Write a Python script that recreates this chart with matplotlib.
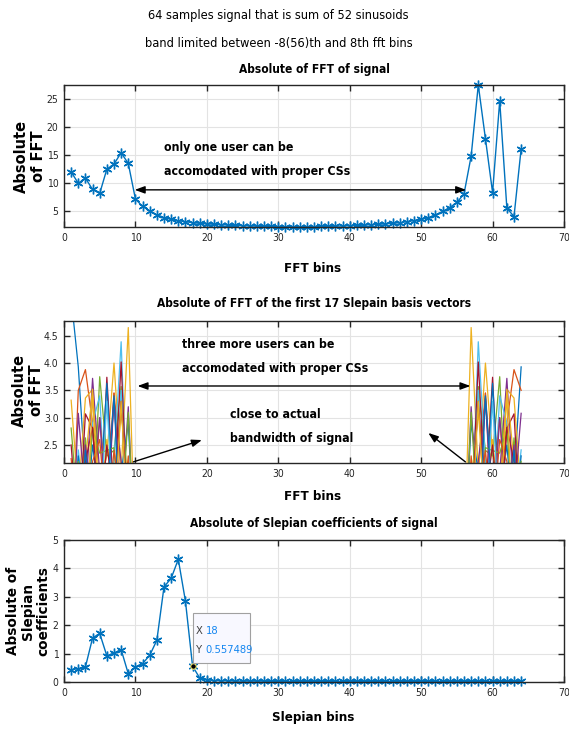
import numpy as np
import matplotlib
matplotlib.use('Agg')
import matplotlib.pyplot as plt
from matplotlib.patches import Rectangle

plt.rcParams['font.family'] = ['DejaVu Sans']
plt.rcParams['font.stretch'] = 'condensed'

W, H = 569, 731
COLORS = ['#0072BD', '#D95319', '#EDB120', '#7E2F8E', '#77AC30', '#4DBEEE', '#A2142F']
ASTER = (6, 2, 0)

# ── data ──────────────────────────────────────────────────────────────────────
bins = np.arange(1, 65)

fft_signal = [12.0, 10.0, 10.9, 8.9, 8.2, 12.5, 13.4, 15.4, 13.5, 7.2,
              5.9, 5.1, 4.4, 3.9, 3.6, 3.35, 3.2, 3.0, 2.9, 2.8,
              2.72, 2.65, 2.58, 2.52, 2.47, 2.43, 2.39, 2.36, 2.34, 2.32,
              2.31, 2.30, 2.30, 2.31, 2.32, 2.34, 2.36, 2.39, 2.43, 2.47,
              2.52, 2.58, 2.65, 2.72, 2.80, 2.90, 3.0, 3.2, 3.4, 3.6,
              3.9, 4.4, 5.0, 5.7, 6.6, 8.1, 14.8, 27.4, 17.9, 8.35,
              24.6, 5.6, 4.1, 16.1]

# |FFT| of the first 17 Slepian vectors, bins 1..10 and 56..64 (rest is below the view)
left_bins = np.arange(1, 11)
right_bins = np.arange(56, 65)
slep_left = [
    [5.2, 3.93, 1.9, 0.8, 0.4, 0.3, 0.2, 0.2, 0.1, 0.1],
    [0.3, 3.5, 3.88, 2.9, 1.5, 1.0, 3.45, 2.0, 1.2, 0.3],
    [3.32, 1.6, 3.36, 3.52, 1.8, 2.3, 4.0, 2.0, 4.65, 0.3],
    [0.2, 3.08, 1.5, 3.72, 2.0, 1.6, 3.3, 2.2, 1.5, 0.2],
    [2.81, 1.2, 2.63, 1.0, 3.75, 2.3, 2.4, 3.57, 1.5, 0.2],
    [0.2, 2.41, 1.2, 2.9, 3.4, 1.0, 2.2, 4.39, 0.8, 0.3],
    [2.5, 0.8, 3.07, 2.8, 1.0, 3.74, 1.5, 4.02, 1.0, 0.3],
    [0.1, 2.3, 1.0, 2.5, 1.5, 3.63, 1.0, 2.0, 2.9, 0.3],
    [2.25, 1.0, 2.4, 1.2, 3.0, 1.5, 3.45, 1.0, 2.3, 0.2],
    [0.2, 1.8, 2.2, 3.52, 1.2, 2.6, 1.5, 3.1, 1.8, 0.2],
    [2.0, 0.6, 2.5, 1.5, 3.0, 1.0, 3.35, 1.2, 3.2, 0.2],
    [0.1, 2.2, 1.0, 2.8, 2.35, 2.4, 2.45, 1.0, 3.1, 0.2],
    [1.5, 2.0, 0.8, 2.0, 1.0, 3.3, 1.0, 3.5, 0.5, 0.1],
    [0.3, 1.5, 2.2, 2.82, 1.0, 2.5, 1.5, 3.3, 1.2, 0.1],
    [1.2, 0.5, 2.4, 1.0, 2.0, 1.5, 3.4, 0.5, 1.8, 0.1],
    [0.2, 1.3, 1.0, 2.2, 2.6, 1.0, 2.4, 1.4, 2.0, 0.1],
    [1.0, 2.1, 0.5, 3.4, 1.2, 2.0, 1.0, 3.3, 0.8, 0.1],
]
slep_right = [
    [0.1, 0.1, 0.2, 0.2, 0.3, 0.4, 0.8, 1.9, 3.93],
    [0.3, 1.2, 2.0, 3.45, 1.0, 1.5, 2.9, 3.88, 3.5],
    [0.3, 4.65, 2.0, 4.0, 2.3, 1.8, 3.52, 3.36, 1.6],
    [0.2, 1.5, 2.2, 3.3, 1.6, 2.0, 3.72, 1.5, 3.08],
    [0.2, 1.5, 3.57, 2.4, 2.3, 3.75, 1.0, 2.63, 1.2],
    [0.3, 0.8, 4.39, 2.2, 1.0, 3.4, 2.9, 1.2, 2.41],
    [0.3, 1.0, 4.02, 1.5, 3.74, 1.0, 2.8, 3.07, 0.8],
    [0.3, 2.9, 2.0, 1.0, 3.63, 1.5, 2.5, 1.0, 2.3],
    [0.2, 2.3, 1.0, 3.45, 1.5, 3.0, 1.2, 2.4, 1.0],
    [0.2, 1.8, 3.1, 1.5, 2.6, 1.2, 3.52, 2.2, 1.8],
    [0.2, 3.2, 1.2, 3.35, 1.0, 3.0, 1.5, 2.5, 0.6],
    [0.2, 3.1, 1.0, 2.45, 2.4, 2.35, 2.8, 1.0, 2.2],
    [0.1, 0.5, 3.5, 1.0, 3.3, 1.0, 2.0, 0.8, 2.0],
    [0.1, 1.2, 3.3, 1.5, 2.5, 1.0, 2.82, 2.2, 1.5],
    [0.1, 1.8, 0.5, 3.4, 1.5, 2.0, 1.0, 2.4, 0.5],
    [0.1, 2.0, 1.4, 2.4, 1.0, 2.6, 2.2, 1.0, 1.3],
    [0.1, 0.8, 3.3, 1.0, 2.0, 1.2, 3.4, 0.5, 2.1],
]

slep_coef = [0.435, 0.47, 0.53, 1.55, 1.71, 0.92, 1.02, 1.14, 0.29, 0.53,
             0.65, 0.94, 1.47, 3.35, 3.65, 4.32, 2.85, 0.557489, 0.14, 0.08,
             0.05, 0.04, 0.04, 0.03, 0.03, 0.03, 0.03, 0.03, 0.02, 0.02,
             0.02, 0.02, 0.02, 0.02, 0.02, 0.02, 0.02, 0.02, 0.02, 0.02,
             0.02, 0.02, 0.02, 0.02, 0.02, 0.02, 0.02, 0.02, 0.02, 0.02,
             0.02, 0.02, 0.02, 0.02, 0.02, 0.02, 0.02, 0.02, 0.02, 0.02,
             0.02, 0.02, 0.02, 0.02]
tip_bin = 18


# ── helpers ───────────────────────────────────────────────────────────────────
def rect(l, t, r, b):
    return [l / W, 1 - b / H, (r - l) / W, (b - t) / H]


def style(ax, yticks, ylim):
    ax.set_xlim(0, 70)
    ax.set_ylim(*ylim)
    ax.set_xticks(range(0, 71, 10))
    ax.set_yticks(yticks)
    ax.grid(True, color='#e3e3e3', linewidth=0.8)
    ax.set_axisbelow(True)
    ax.tick_params(direction='in', top=True, right=True, length=4, width=1,
                   labelsize=7.5, colors='#262626', pad=4)
    for s in ax.spines.values():
        s.set_color('#262626')
        s.set_linewidth(1)


def ftext(x, y, s, **kw):
    fig.text(x / W, 1 - y / H, s, ha='center', va='center', **kw)


def ylab(x, y, s, size=10.5):
    fig.text(x / W, 1 - y / H, s, rotation=90, ha='center', va='center',
             fontstretch='normal', fontweight='bold', fontsize=size,
             linespacing=1.1)


arrow = dict(arrowstyle='-|>,head_length=0.6,head_width=0.22', color='black',
             lw=1, shrinkA=0, shrinkB=0)
darrow = dict(arrowstyle='<|-|>,head_length=0.6,head_width=0.22', color='black',
              lw=1, shrinkA=0, shrinkB=0)

fig = plt.figure(figsize=(W / 100, H / 100), dpi=100)

ftext(278, 16, '64 samples signal that is sum of 52 sinusoids', fontsize=9.2)
ftext(279, 43, 'band limited between -8(56)th and 8th fft bins', fontsize=9.2)

# ── top: |FFT| of signal ─────────────────────────────────────────────────────
ax1 = fig.add_axes(rect(64, 85, 564, 227))
ax1.plot(bins, fft_signal, color=COLORS[0], lw=1, marker=ASTER, ms=7, mew=1,
         clip_on=False)
style(ax1, range(5, 26, 5), (2.25, 27.4))
ax1.annotate('', xy=(9.9, 8.83), xytext=(56.3, 8.83), arrowprops=darrow)
ax1.text(14, 14.2, 'only one user can be\naccomodated with proper CSs',
         fontsize=8.8, fontweight='bold', va='center', linespacing=2.1)
ftext(314, 70, 'Absolute of FFT of signal', fontsize=8.6, fontweight='bold')
ftext(313, 268, 'FFT bins', fontsize=9.5, fontweight='bold')
ylab(30, 156, 'Absolute\nof FFT')

# ── middle: |FFT| of Slepian basis vectors ───────────────────────────────────
ax2 = fig.add_axes(rect(64, 321, 564, 463))
for i in range(17):
    c = COLORS[i % len(COLORS)]
    ax2.plot(left_bins, slep_left[i], color=c, lw=0.9)
    ax2.plot(right_bins, slep_right[i], color=c, lw=0.9)
style(ax2, [2.5, 3, 3.5, 4, 4.5], (2.17, 4.77))
ax2.annotate('', xy=(10.3, 3.58), xytext=(56.9, 3.58), arrowprops=darrow)
ax2.annotate('', xy=(19.3, 2.59), xytext=(9.7, 2.19), arrowprops=arrow,
             annotation_clip=False)
ax2.annotate('', xy=(51.0, 2.72), xytext=(56.2, 2.19), arrowprops=arrow,
             annotation_clip=False)
ax2.text(16.5, 4.12, 'three more users can be\naccomodated with proper CSs',
         fontsize=8.8, fontweight='bold', va='center', linespacing=2.1)
ax2.text(23.2, 2.83, 'close to actual\nbandwidth of signal',
         fontsize=8.8, fontweight='bold', va='center', linespacing=2.1)
ftext(314, 304, 'Absolute of FFT of the first 17 Slepain basis vectors',
      fontsize=8.6, fontweight='bold')
ftext(313, 496, 'FFT bins', fontsize=9.5, fontweight='bold')
ylab(28, 390, 'Absolute\nof FFT')

# ── bottom: |Slepian coefficients| ───────────────────────────────────────────
ax3 = fig.add_axes(rect(64, 540, 564, 682))
ax3.plot(bins, slep_coef, color=COLORS[0], lw=1, marker=ASTER, ms=7, mew=1,
         clip_on=False)
style(ax3, range(0, 6), (0, 5))
ty = slep_coef[tip_bin - 1]
ax3.plot([tip_bin], [ty], 'o', ms=4, mfc='black', mec='#f5e76a', mew=0.8,
         zorder=6)
ax3.add_patch(Rectangle((18.1, 0.66), 7.9, 1.76, facecolor='#f8f8ff',
                        edgecolor='#a0a0a0', lw=0.8, zorder=7))
ax3.text(18.5, 1.79, 'X', color='#404040', fontsize=8, va='center', zorder=8)
ax3.text(19.8, 1.79, f'{tip_bin}', color='#1486f0', fontsize=8,
         va='center', zorder=8)
ax3.text(18.5, 1.12, 'Y', color='#404040', fontsize=8, va='center', zorder=8)
ax3.text(19.8, 1.12, f'{ty:g}', color='#1486f0', fontsize=8,
         va='center', zorder=8)
ftext(314, 524, 'Absolute of Slepian coefficients of signal', fontsize=8.6,
      fontweight='bold')
ftext(313, 717, 'Slepian bins', fontsize=9.5, fontweight='bold')
ylab(28, 611, 'Absolute of\nSlepian\ncoefficients', size=9.8)

fig.savefig('out.png', dpi=100)
